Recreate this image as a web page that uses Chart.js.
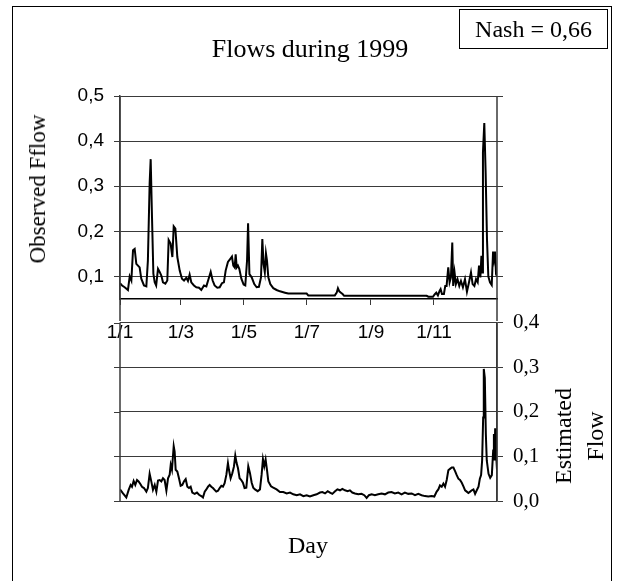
<!DOCTYPE html>
<html>
<head>
<meta charset="utf-8">
<title>Flows during 1999</title>
<script src="https://cdn.jsdelivr.net/npm/chart.js@4.4.0/dist/chart.umd.min.js"></script>
<style>
    body { margin: 0; background: #fff; width: 619px; height: 581px; overflow: hidden; position: relative; font-family: "Liberation Serif", "Times New Roman", serif; color: #000; }
    #frame { position: absolute; left: 12px; top: 6px; width: 598px; height: 600px; border: 1.5px solid #000; }
    canvas { position: absolute; left: 0; }
    #topChart { top: 0; }
    #bottomChart { top: 300px; }
    .label { position: absolute; white-space: nowrap; }
    #title { left: 0; width: 620px; top: 34px; text-align: center; font-size: 26px; }
    #nash { left: 459px; top: 9px; width: 147px; height: 38px; border: 1.5px solid #000; text-align: center; font-size: 24px; line-height: 38px; }
    #obsLabel { left: 38px; top: 189px; font-size: 23px; transform: translate(-50%, -50%) rotate(-90deg); }
    #estLabel { left: 579px; top: 436px; font-size: 24px; line-height: 32px; text-align: center; transform: translate(-50%, -50%) rotate(-90deg); }
    #dayLabel { left: 308px; top: 545px; font-size: 24px; transform: translate(-50%, -50%); }
</style>
</head>
<body>
<div id="frame"></div>
<canvas id="topChart" width="619" height="345"></canvas>
<canvas id="bottomChart" width="619" height="281"></canvas>
<div class="label" id="title">Flows during 1999</div>
<div class="label" id="nash">Nash = 0,66</div>
<div class="label" id="obsLabel">Observed Fflow</div>
<div class="label" id="estLabel">Estimated<br>Flow</div>
<div class="label" id="dayLabel">Day</div>

<script>
// Day-of-year positions of the month ticks and their labels
const monthDays = [0, 59, 120, 181, 243, 304];
const monthLabels = ['1/1', '1/3', '1/5', '1/7', '1/9', '1/11'];

// Tick values for both panels
const obsTicks = [0.1, 0.2, 0.3, 0.4, 0.5];
const estTicks = [0.0, 0.1, 0.2, 0.3, 0.4];

// Observed flow (day of year, value)
const obsDays = [0, 2, 4.5, 7.7, 9.4, 11, 12.6, 14.2, 15.8, 17.4, 19, 20.6, 23.2, 25.5, 27, 28.7, 29.7, 31, 32.3, 33.6,
    35, 36.8, 38.4, 40, 41.6, 43.9, 45.8, 47.1, 49, 50.7, 52, 53.6, 55.5, 57.8, 60, 62, 64.2, 65.8, 67.4, 69,
    71.6, 73.9, 76.5, 78.7, 81.3, 83.6, 85.8, 87.8, 89.7, 91.6, 94.2, 96.5, 98.7, 100.6, 102.3, 104.5, 106.8, 108.4, 109.7, 111,
    112, 113, 114.2, 115.5, 117.5, 119.7, 121.3, 123, 124, 125.3, 127.5, 130, 132.3, 134.5, 136.5, 137.8, 139, 140.2, 141.3, 142.3,
    143.6, 145.5, 148.4, 151.6, 154.9, 159.7, 162.9, 180.7, 182.3, 208, 209.8, 211, 212.3, 213.9, 215.5, 217, 296.9, 298.5, 303, 304.6,
    306.2, 307.8, 309.4, 310.4, 311.7, 313.6, 314.9, 316.2, 317.8, 319.1, 320.4, 321.7, 322.6, 323.9, 325.2, 326.8, 328.5, 330.1, 332, 334,
    335.9, 337.9, 339.8, 341.4, 343.1, 344.7, 346.3, 347.6, 348.9, 349.9, 350.8, 351.4, 352.7, 354, 355.3, 356.6, 358.2, 359.9, 361.2, 362.1,
    363.1, 364.1, 365];
const obsFlow = [0.085, 0.08, 0.076, 0.07, 0.1, 0.091, 0.158, 0.161, 0.128, 0.124, 0.12, 0.095, 0.08, 0.078, 0.135, 0.306, 0.36, 0.23, 0.106, 0.087,
    0.08, 0.117, 0.11, 0.102, 0.087, 0.084, 0.091, 0.181, 0.173, 0.143, 0.211, 0.206, 0.143, 0.113, 0.095, 0.091, 0.097, 0.09, 0.104, 0.087,
    0.08, 0.076, 0.075, 0.07, 0.08, 0.078, 0.095, 0.11, 0.091, 0.08, 0.075, 0.076, 0.085, 0.087, 0.113, 0.132, 0.139, 0.144, 0.124, 0.12,
    0.149, 0.12, 0.124, 0.117, 0.095, 0.082, 0.08, 0.135, 0.218, 0.105, 0.098, 0.083, 0.076, 0.077, 0.098, 0.183, 0.127, 0.109, 0.151, 0.135,
    0.098, 0.083, 0.074, 0.07, 0.067, 0.064, 0.062, 0.062, 0.058, 0.058, 0.064, 0.074, 0.067, 0.064, 0.061, 0.057, 0.057, 0.055, 0.055, 0.06,
    0.064, 0.058, 0.068, 0.072, 0.061, 0.061, 0.079, 0.079, 0.12, 0.087, 0.098, 0.175, 0.079, 0.109, 0.083, 0.094, 0.079, 0.09, 0.076, 0.094,
    0.066, 0.087, 0.109, 0.083, 0.079, 0.094, 0.087, 0.124, 0.098, 0.146, 0.109, 0.375, 0.44, 0.33, 0.183, 0.1, 0.087, 0.081, 0.155, 0.138,
    0.155, 0.105, 0.1];

// Estimated flow (day of year, value)
const estDays = [0, 2.9, 6.1, 8.4, 10.3, 11.6, 13.2, 14.8, 16.5, 18, 19.7, 21.3, 23.2, 25.5, 27, 28.7, 30.3, 31.9, 33.6, 35.2,
    36.8, 38.4, 40, 41.6, 43.2, 44.9, 46.5, 48.1, 49.1, 50.3, 52, 52.9, 53.9, 55.5, 57.1, 58.7, 60.3, 62, 63.6, 65.2,
    66.8, 68.4, 70, 72.3, 74.5, 76.5, 78.7, 80.3, 82, 83.6, 85.2, 86.8, 88.4, 90, 91.6, 93.2, 94.9, 96.5, 98.1, 99.7,
    101.3, 103, 104.5, 105.5, 107.1, 108.7, 110.3, 111.6, 112.9, 114.2, 115.8, 117.4, 119, 120.6, 122.3, 124.2, 125.8, 127.5, 129, 130.7,
    133.3, 135.5, 137.1, 138.4, 139.7, 141, 142.3, 143.6, 146.2, 148.4, 151.6, 154.9, 158.1, 161.4, 164.6, 167.8, 171.1, 174.3, 177.5, 180.7,
    183.9, 187.2, 190.4, 193.6, 195.9, 198.5, 201.1, 203.3, 205.6, 208.2, 210.5, 213, 215.3, 217.8, 220.4, 222.6, 224.9, 227.5, 230.7, 233.9,
    236.5, 238.8, 241, 243.6, 246.8, 250, 253.3, 256.5, 259.7, 262.9, 266.1, 269.4, 272.6, 275.8, 279.1, 282.4, 285.6, 288.8, 292, 295.3,
    298.5, 301.7, 304.3, 306.6, 308.2, 309.8, 311.5, 313.1, 314.7, 316.3, 317.9, 319.5, 321.2, 322.8, 324.4, 326, 327.6, 329.2, 330.9, 332.5,
    334.1, 335.7, 337.3, 339, 340.6, 342.2, 343.8, 345.4, 347.1, 348.4, 349.6, 350.6, 351.6, 352.2, 353.2, 354.2, 355.1, 356.8, 358.4, 360,
    361.3, 362, 362.6, 363.2, 363.9, 364.5, 365];
const estFlow = [0.026, 0.017, 0.008, 0.025, 0.036, 0.032, 0.045, 0.036, 0.047, 0.044, 0.038, 0.032, 0.029, 0.021, 0.029, 0.061, 0.044, 0.025, 0.036, 0.021,
    0.046, 0.047, 0.044, 0.051, 0.047, 0.023, 0.051, 0.059, 0.081, 0.07, 0.123, 0.111, 0.07, 0.066, 0.051, 0.034, 0.036, 0.044, 0.049, 0.032,
    0.029, 0.032, 0.019, 0.016, 0.019, 0.014, 0.011, 0.008, 0.021, 0.026, 0.032, 0.036, 0.032, 0.029, 0.025, 0.021, 0.023, 0.029, 0.034, 0.032,
    0.04, 0.059, 0.085, 0.07, 0.051, 0.062, 0.077, 0.102, 0.085, 0.074, 0.051, 0.047, 0.041, 0.029, 0.03, 0.078, 0.063, 0.041, 0.03, 0.026,
    0.022, 0.026, 0.059, 0.094, 0.078, 0.093, 0.07, 0.044, 0.033, 0.03, 0.026, 0.02, 0.02, 0.017, 0.019, 0.015, 0.013, 0.015, 0.011, 0.013,
    0.01, 0.013, 0.015, 0.019, 0.02, 0.017, 0.022, 0.019, 0.016, 0.022, 0.026, 0.024, 0.027, 0.024, 0.022, 0.024, 0.019, 0.017, 0.015, 0.016,
    0.013, 0.007, 0.013, 0.015, 0.013, 0.015, 0.017, 0.015, 0.019, 0.02, 0.017, 0.019, 0.015, 0.019, 0.016, 0.017, 0.013, 0.016, 0.013, 0.011,
    0.01, 0.011, 0.01, 0.021, 0.026, 0.035, 0.032, 0.039, 0.032, 0.047, 0.069, 0.072, 0.075, 0.075, 0.067, 0.058, 0.05, 0.047, 0.041, 0.033,
    0.024, 0.021, 0.018, 0.021, 0.024, 0.026, 0.016, 0.024, 0.032, 0.05, 0.058, 0.091, 0.187, 0.296, 0.276, 0.15, 0.091, 0.061, 0.052, 0.058,
    0.113, 0.15, 0.091, 0.161, 0.163, 0.091, 0.07];

document.addEventListener('DOMContentLoaded', function() {
    const gridColor = '#3a3a3a';

    // Draws the panel's side borders and the short gridline stubs opposite the labelled axis
    const panelFrame = {
        id: 'panelFrame',
        afterDraw(chart, args, opts) {
            const ctx = chart.ctx;
            const area = chart.chartArea;
            const yScale = chart.scales.y;
            ctx.save();
            ctx.strokeStyle = gridColor;
            ctx.lineWidth = 1;
            yScale.ticks.forEach(t => {
                const py = Math.round(yScale.getPixelForValue(t.value)) + 0.5;
                ctx.beginPath();
                if (opts.stub === 'right') {
                    ctx.moveTo(area.right, py);
                    ctx.lineTo(area.right + 6, py);
                } else {
                    ctx.moveTo(area.left - 6, py);
                    ctx.lineTo(area.left, py);
                }
                ctx.stroke();
            });
            ctx.lineWidth = 1.5;
            ctx.beginPath();
            ctx.moveTo(area.left, area.top - opts.extendTop);
            ctx.lineTo(area.left, area.bottom + opts.extendBottom);
            ctx.moveTo(area.right, area.top - opts.extendTop);
            ctx.lineTo(area.right, area.bottom + opts.extendBottom);
            ctx.stroke();
            ctx.restore();
        }
    };

    const lineStyle = {
        borderColor: '#000',
        borderWidth: 2,
        pointRadius: 0,
        tension: 0,
        fill: false
    };

    const commaLabel = v => v.toFixed(1).replace('.', ',');

    // Upper panel: observed flow
    new Chart(document.getElementById('topChart'), {
        type: 'line',
        data: {
            datasets: [Object.assign({
                data: obsDays.map((d, i) => ({ x: d, y: obsFlow[i] }))
            }, lineStyle)]
        },
        options: {
            responsive: false,
            animation: false,
            layout: { padding: { left: 0, top: 96, right: 122, bottom: 0 } },
            plugins: {
                legend: { display: false },
                tooltip: { enabled: false },
                panelFrame: { stub: 'right', extendTop: 0, extendBottom: 22 }
            },
            scales: {
                x: {
                    type: 'linear',
                    min: 0,
                    max: 365,
                    afterBuildTicks: axis => { axis.ticks = monthDays.map(v => ({ value: v })); },
                    afterFit: axis => { axis.height = 46; },
                    ticks: {
                        autoSkip: false,
                        maxRotation: 0,
                        padding: 16,
                        color: '#000',
                        font: { family: 'Liberation Sans', size: 19 },
                        callback: (v, i) => monthLabels[i]
                    },
                    grid: { drawOnChartArea: false, drawTicks: true, tickLength: 6, color: gridColor },
                    border: { color: '#000', width: 1.5 }
                },
                y: {
                    min: 0.05,
                    max: 0.5,
                    afterBuildTicks: axis => { axis.ticks = obsTicks.map(v => ({ value: v })); },
                    afterFit: axis => { axis.width = 120; },
                    ticks: {
                        padding: 10,
                        color: '#000',
                        font: { family: 'Liberation Sans', size: 19 },
                        callback: v => commaLabel(v)
                    },
                    grid: { color: gridColor, tickLength: 6 },
                    border: { color: gridColor, width: 1.5 }
                }
            }
        },
        plugins: [panelFrame]
    });

    // Lower panel: estimated flow, labelled on the right
    new Chart(document.getElementById('bottomChart'), {
        type: 'line',
        data: {
            datasets: [Object.assign({
                data: estDays.map((d, i) => ({ x: d, y: estFlow[i] }))
            }, lineStyle)]
        },
        options: {
            responsive: false,
            animation: false,
            layout: { padding: { left: 120, top: 21, right: 0, bottom: 80 } },
            plugins: {
                legend: { display: false },
                tooltip: { enabled: false },
                panelFrame: { stub: 'left', extendTop: 0, extendBottom: 0 }
            },
            scales: {
                x: { type: 'linear', min: 0, max: 365, display: false },
                y: {
                    position: 'right',
                    min: 0,
                    max: 0.4,
                    afterBuildTicks: axis => { axis.ticks = estTicks.map(v => ({ value: v })); },
                    afterFit: axis => { axis.width = 122; },
                    ticks: {
                        padding: 10,
                        color: '#000',
                        font: { family: 'Liberation Serif', size: 21 },
                        callback: v => commaLabel(v)
                    },
                    grid: { color: gridColor, tickLength: 6 },
                    border: { color: gridColor, width: 1.5 }
                }
            }
        },
        plugins: [panelFrame]
    });
});
</script>
</body>
</html>
